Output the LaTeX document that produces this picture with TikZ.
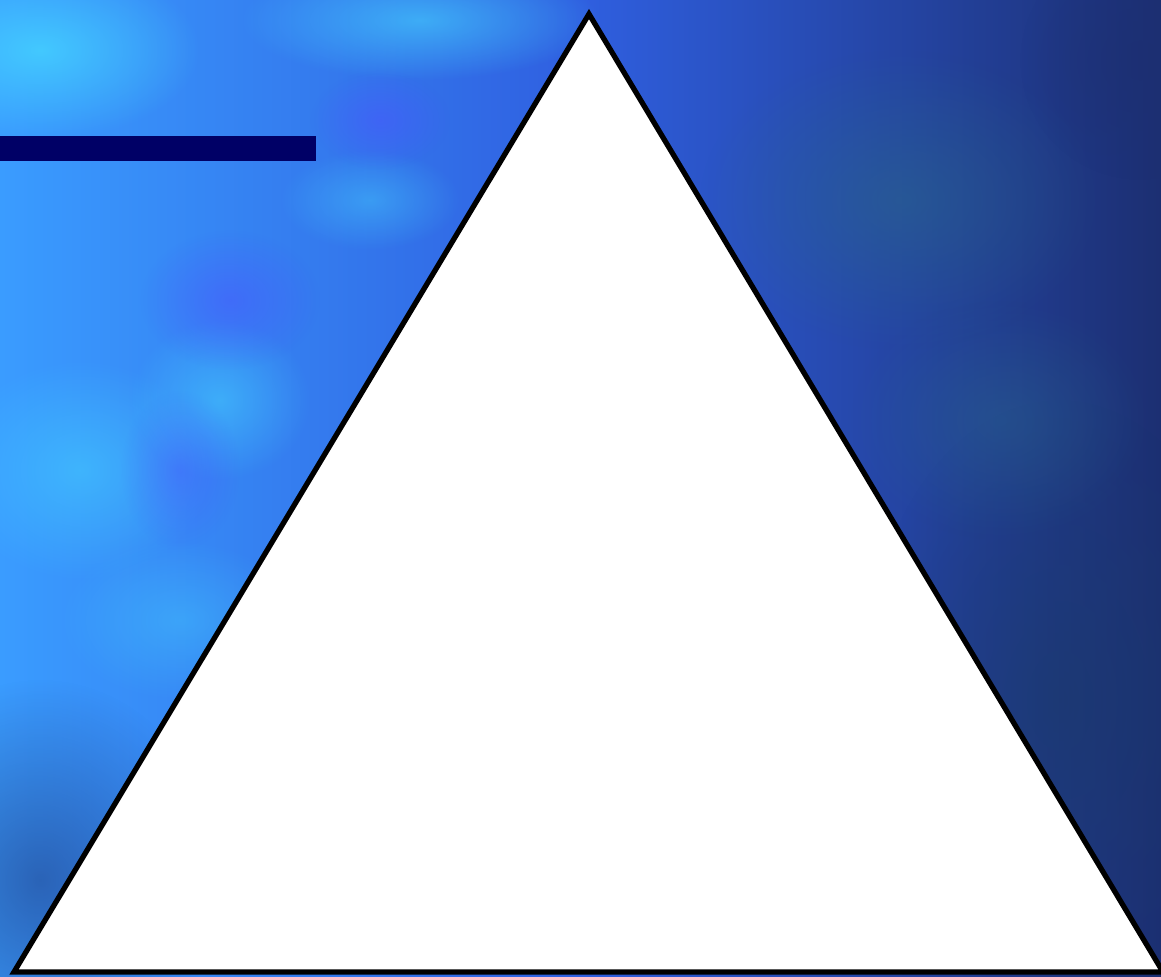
\documentclass[tikz,border=0pt]{standalone}
\usetikzlibrary{fadings}
\definecolor{bgL}{HTML}{3A9CFF}
\definecolor{bgM}{HTML}{2F5FE0}
\definecolor{bgR}{HTML}{1C2F72}
\definecolor{blobC}{HTML}{45D5FF}
\definecolor{blobV}{HTML}{4A55FF}
\definecolor{blobD}{HTML}{1A3A6A}
\definecolor{blobT}{HTML}{2A6A8A}
\definecolor{navybar}{HTML}{000066}
\tikzfading[name=softblob, inner color=transparent!0, outer color=transparent!100]
\tikzset{
  tri/.style={draw=black, line width=1.5pt, fill=white, line join=miter},
  blob/.style={path fading=softblob},
}
\begin{document}
\begin{tikzpicture}[x=0.01cm,y=-0.01cm]
\useasboundingbox (0,0) rectangle (1161,976);
% background
\shade[left color=bgL, right color=bgR, middle color=bgM, shading angle=90] (0,0) rectangle (1161,976);
\begin{scope}
\clip (0,0) rectangle (1161,976);
\fill[blobC, blob, opacity=0.8] (40,50) ellipse (160 and 90);
\fill[blobC, blob, opacity=0.6] (420,20) ellipse (180 and 60);
\fill[blobC, blob, opacity=0.5] (80,470) ellipse (130 and 110);
\fill[blobC, blob, opacity=0.5] (220,400) ellipse (90 and 80);
\fill[blobC, blob, opacity=0.4] (370,200) ellipse (90 and 50);
\fill[blobV, blob, opacity=0.5] (230,300) ellipse (90 and 70);
\fill[blobV, blob, opacity=0.5] (380,120) ellipse (70 and 50);
\fill[blobV, blob, opacity=0.4] (180,470) ellipse (60 and 80);
\fill[blobC, blob, opacity=0.35] (180,620) ellipse (120 and 80);
\fill[bgR, blob, opacity=0.5] (40,880) ellipse (180 and 200);
\fill[blobD, blob, opacity=0.6] (1060,700) ellipse (200 and 300);
\fill[blobT, blob, opacity=0.5] (900,200) ellipse (200 and 150);
\fill[blobT, blob, opacity=0.4] (1000,420) ellipse (150 and 120);
\fill[bgR, blob, opacity=0.6] (1140,60) ellipse (120 and 120);
\end{scope}
% bar
\node[fill=navybar, inner sep=0pt, minimum width=3.2cm, minimum height=0.25cm, anchor=north west] (bar) at (-5,135) {};
% triangle
\coordinate (apex) at (589,14);
\coordinate (bl) at (14,972);
\coordinate (br) at (1163,972);
\draw[tri] (apex) -- (bl) -- (br) -- cycle;
\end{tikzpicture}
\end{document}
